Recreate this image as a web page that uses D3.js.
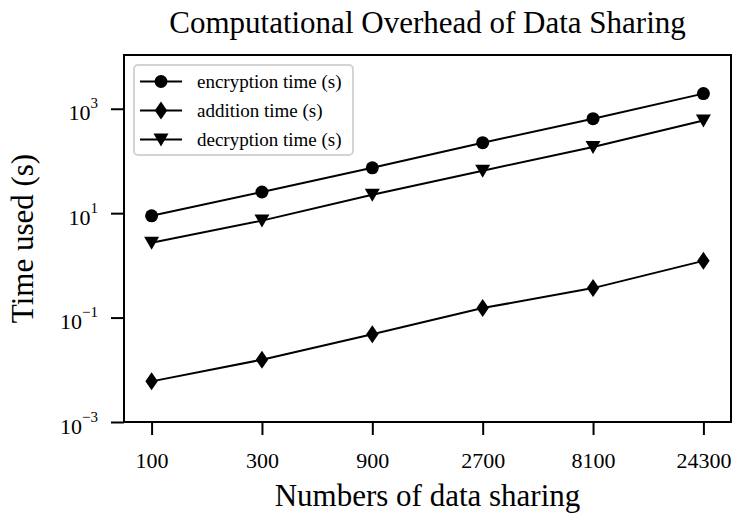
<!DOCTYPE html>
<html>
<head>
<meta charset="utf-8">
<script src="https://cdn.jsdelivr.net/npm/d3@7"></script>
<style>
  html, body { margin: 0; padding: 0; background: #fff; }
  svg { display: block; font-family: "Liberation Serif", "Times New Roman", serif; }
</style>
</head>
<body>
<svg id="chart" width="732" height="516"></svg>
<script>
// Data sharing sizes (categorical x axis)
const categories = ["100", "300", "900", "2700", "8100", "24300"];

// Measured times in seconds
const encryptionTime = [8.9, 25.4, 74, 224, 646, 1950];
const additionTime   = [0.006, 0.0156, 0.048, 0.152, 0.367, 1.22];
const decryptionTime = [2.7, 7.2, 22.5, 65, 185, 597];

const seriesNames = ["encryption time (s)", "addition time (s)", "decryption time (s)"];
const yTickValues = [1e-3, 1e-1, 1e1, 1e3];

const series = [
  { name: seriesNames[0], values: encryptionTime, marker: "circle" },
  { name: seriesNames[1], values: additionTime,   marker: "diamond" },
  { name: seriesNames[2], values: decryptionTime, marker: "triangle" }
];

const serif = "Liberation Serif, Times New Roman, serif";
const svg = d3.select("#chart");
const plot = { left: 124, right: 731, top: 55, bottom: 422 };

const x = d3.scalePoint()
  .domain(categories)
  .range([plot.left, plot.right])
  .padding(0.25);

const y = d3.scaleLog()
  .domain([1e-3, 1.07e4])
  .range([plot.bottom, plot.top]);

// Marker shapes
function markerPath(type) {
  if (type === "circle") return d3.symbol(d3.symbolCircle, Math.PI * 6.5 * 6.5)();
  if (type === "diamond") return "M0,-9L6.2,0L0,9L-6.2,0Z";
  return "M-7.5,-6L7.5,-6L0,7Z";
}

// Lines and markers
const line = d3.line()
  .x((d, i) => x(categories[i]))
  .y(d => y(d));

const g = svg.append("g");
series.forEach(s => {
  g.append("path")
    .attr("d", line(s.values))
    .attr("fill", "none")
    .attr("stroke", "#000")
    .attr("stroke-width", 2);
  g.selectAll(null)
    .data(s.values)
    .join("path")
    .attr("transform", (d, i) => `translate(${x(categories[i])},${y(d)})`)
    .attr("d", markerPath(s.marker))
    .attr("fill", "#000");
});

// Axes frame
svg.append("rect")
  .attr("x", plot.left).attr("y", plot.top)
  .attr("width", plot.right - plot.left).attr("height", plot.bottom - plot.top)
  .attr("fill", "none").attr("stroke", "#000").attr("stroke-width", 2);

// X axis
const xAxis = svg.append("g")
  .attr("transform", `translate(0,${plot.bottom})`)
  .call(d3.axisBottom(x).tickSize(13))
  .attr("font-family", serif);
xAxis.select(".domain").remove();
xAxis.selectAll(".tick line").attr("stroke", "#000").attr("stroke-width", 2);
xAxis.selectAll(".tick text")
  .attr("y", 45.5).attr("dy", null)
  .attr("font-size", 22).attr("fill", "#000");

// Y axis with power-of-ten labels
const yAxis = svg.append("g")
  .attr("transform", `translate(${plot.left},0)`)
  .call(d3.axisLeft(y).tickValues(yTickValues).tickSize(13).tickFormat(""))
  .attr("font-family", serif);
yAxis.select(".domain").remove();
yAxis.selectAll(".tick line").attr("stroke", "#000").attr("stroke-width", 2);
yAxis.selectAll(".tick text").remove();
yAxis.selectAll(".tick").each(function(d) {
  const exp = Math.round(Math.log10(d));
  const t = d3.select(this).append("text")
    .attr("x", -26).attr("y", 11)
    .attr("text-anchor", "end")
    .attr("font-size", 22).attr("fill", "#000");
  t.append("tspan").text("10");
  t.append("tspan").attr("dy", -12).attr("font-size", 15)
    .text(exp < 0 ? "\u2212" + Math.abs(exp) : String(exp));
});

// Title and axis labels
svg.append("text")
  .attr("x", (plot.left + plot.right) / 2).attr("y", 33)
  .attr("text-anchor", "middle").attr("font-size", 31).attr("fill", "#000")
  .text("Computational Overhead of Data Sharing");

svg.append("text")
  .attr("x", (plot.left + plot.right) / 2).attr("y", 506)
  .attr("text-anchor", "middle").attr("font-size", 31).attr("fill", "#000")
  .text("Numbers of data sharing");

svg.append("text")
  .attr("transform", `translate(33,${(plot.top + plot.bottom) / 2}) rotate(-90)`)
  .attr("text-anchor", "middle").attr("font-size", 31).attr("fill", "#000")
  .text("Time used (s)");

// Legend
const legend = svg.append("g").attr("transform", "translate(134,65)");
legend.append("rect")
  .attr("width", 219).attr("height", 90).attr("rx", 4)
  .attr("fill", "#fff").attr("stroke", "#d4d4d4").attr("stroke-width", 2);
series.forEach((s, i) => {
  const cy = 16.5 + i * 29;
  const row = legend.append("g").attr("transform", `translate(0,${cy})`);
  row.append("line").attr("x1", 6).attr("x2", 48)
    .attr("stroke", "#000").attr("stroke-width", 2);
  row.append("path").attr("transform", "translate(27,0)")
    .attr("d", markerPath(s.marker)).attr("fill", "#000");
  row.append("text").attr("x", 63).attr("y", 6.5)
    .attr("font-size", 19).attr("fill", "#000").text(s.name);
});
</script>
</body>
</html>
